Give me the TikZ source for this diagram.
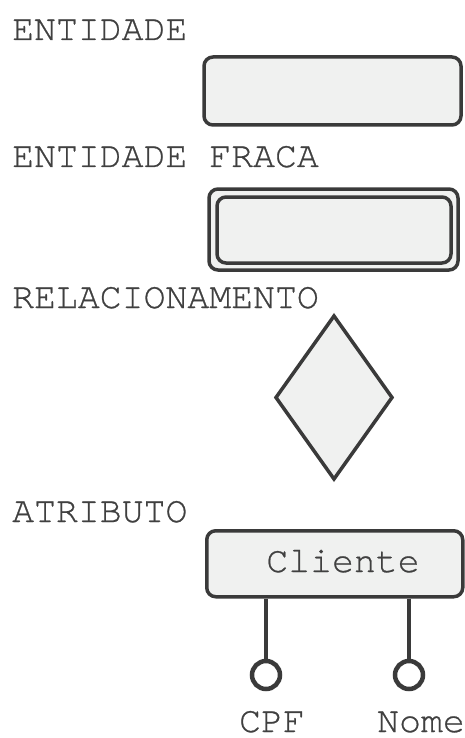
\documentclass[tikz,border=0pt]{standalone}
\usepackage{fontspec}
\setmainfont{TeX Gyre Cursor}[FakeBold=0.7]
\usetikzlibrary{shapes.geometric}
\definecolor{ink}{HTML}{3A3A3A}
\definecolor{txt}{HTML}{404040}
\definecolor{boxfill}{HTML}{F0F1F0}
\tikzset{
  lbl/.style={anchor=base west, inner sep=0pt, text=txt, font=\fontsize{36.5}{40}\selectfont},
  clbl/.style={anchor=base, inner sep=0pt, text=txt, font=\fontsize{36.5}{40}\selectfont},
  ent/.style={draw=ink, fill=boxfill, line width=3.5pt, rounded corners=9pt},
  ln/.style={draw=ink, line width=4.5pt},
  attr/.style={draw=ink, line width=4.5pt, circle, minimum size=28pt, inner sep=0pt, fill=white},
}
\begin{document}
\begin{tikzpicture}[x=1pt,y=-1pt]
\useasboundingbox[fill=white] (0,0) rectangle (465,738);
\node[lbl] (t1) at (12,40) {ENTIDADE};
\path[ent] (204,57) rectangle (461,125);
\node[lbl] (t2) at (12,167) {ENTIDADE FRACA};
\path[ent] (209,189) rectangle (458,270);
\path[ent] (217,197) rectangle (451,263);
\node[lbl] (t3) at (12,308) {RELACIONAMENTO};
\path[draw=ink, fill=boxfill, line width=3.5pt, line join=miter] (334,316) -- (392,397.5) -- (334,479) -- (276,397.5) -- cycle;
\node[lbl] (t4) at (12,522) {ATRIBUTO};
\node[ent, minimum width=256pt, minimum height=66pt, anchor=north west, inner sep=0pt] (cli) at (205,529) {};
\node[clbl] (clit) at (343,572) {Cliente};
\node[attr] (a1) at (266,675) {};
\node[attr] (a2) at (409,675) {};
\draw[ln] (cli.south -| a1) -- (a1.north);
\draw[ln] (cli.south -| a2) -- (a2.north);
\node[clbl] (cpf) at (272,732) {CPF};
\node[clbl] (nome) at (421,732) {Nome};
\end{tikzpicture}
\end{document}
